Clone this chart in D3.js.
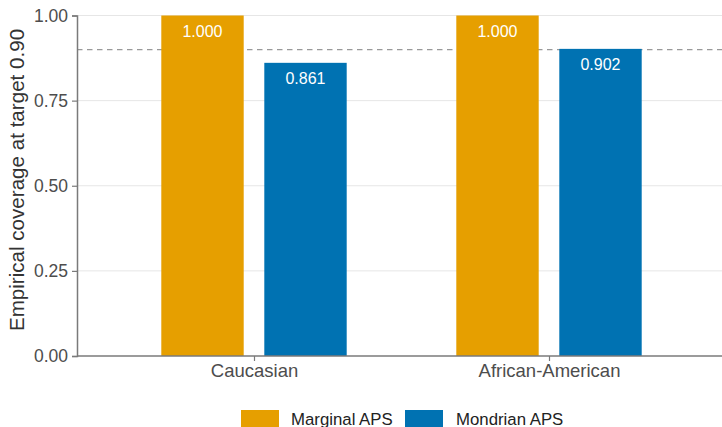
<!DOCTYPE html>
<html>
<head>
<meta charset="utf-8">
<script src="https://cdn.jsdelivr.net/npm/d3@7"></script>
<style>
  html, body { margin: 0; padding: 0; background: #fff; }
  svg { display: block; font-family: "Liberation Sans", Arial, Helvetica, sans-serif; }
</style>
</head>
<body>
<svg id="chart" width="722" height="427"></svg>
<script>
const categories = ["Caucasian", "African-American"];
const series = ["Marginal APS", "Mondrian APS"];
const marginalValues = [1.000, 1.000];
const mondrianValues = [0.861, 0.902];
const yTicks = [0, 0.25, 0.5, 0.75, 1.0];
const yTickLabels = ["0.00", "0.25", "0.50", "0.75", "1.00"];
const targetCoverage = 0.90;
const yTitle = "Empirical coverage at target 0.90";
const colors = ["#E69F00", "#0072B2"];

const values = [marginalValues, mondrianValues];
const data = [];
categories.forEach((c, i) => series.forEach((s, j) => data.push({cat: c, ser: s, val: values[j][i], idx: j})));

const svg = d3.select("#chart");
const mLeft = 77, mRight = 726, mTop = 15.5, mBottom = 356;

const x = d3.scalePoint().domain(categories).range([mLeft, mRight]).padding(0.6);
const x1 = d3.scaleBand().domain(series).range([-103, 103]).padding(0);
const y = d3.scaleLinear().domain([0, 1]).range([mBottom, mTop]);
const color = d3.scaleOrdinal().domain(series).range(colors);

// gridlines
svg.append("g").selectAll("line").data(yTicks.filter(d => d > 0)).join("line")
  .attr("x1", mLeft).attr("x2", 722)
  .attr("y1", d => y(d)).attr("y2", d => y(d))
  .attr("stroke", "#e6e6e6").attr("stroke-width", 1);

// target line
svg.append("line")
  .attr("x1", mLeft).attr("x2", 722)
  .attr("y1", y(targetCoverage)).attr("y2", y(targetCoverage))
  .attr("stroke", "#999").attr("stroke-width", 1.2)
  .attr("stroke-dasharray", "5.5,4.5");

// bars
const bw = x1.bandwidth() * 0.8;
svg.append("g").selectAll("rect").data(data).join("rect")
  .attr("x", d => x(d.cat) + x1(d.ser) + (x1.bandwidth() - bw) / 2)
  .attr("width", bw)
  .attr("y", d => y(d.val))
  .attr("height", d => y(0) - y(d.val))
  .attr("fill", d => color(d.ser));

// value labels
svg.append("g").selectAll("text").data(data).join("text")
  .attr("x", d => x(d.cat) + x1(d.ser) + x1.bandwidth() / 2)
  .attr("y", d => y(d.val) + 16)
  .attr("text-anchor", "middle")
  .attr("dominant-baseline", "central")
  .attr("fill", "#fff")
  .attr("font-size", 16)
  .text(d => d.val.toFixed(3));

// y axis
const yAxis = svg.append("g").attr("transform", `translate(${mLeft},0)`)
  .call(d3.axisLeft(y).tickValues(yTicks).tickFormat((d, i) => yTickLabels[i]).tickSize(5).tickPadding(4));
yAxis.select(".domain").attr("stroke", "#7a7a7a").attr("stroke-width", 1.5);
yAxis.selectAll(".tick line").attr("stroke", "#7a7a7a").attr("stroke-width", 1.2);
yAxis.selectAll(".tick text").attr("fill", "#4d4d4d").attr("font-size", 17.5);

// x axis
const xAxis = svg.append("g").attr("transform", `translate(0,${mBottom})`)
  .call(d3.axisBottom(x).tickSize(5).tickPadding(3));
xAxis.select(".domain").attr("stroke", "#7a7a7a").attr("stroke-width", 1.5).attr("d", `M${mLeft},0H722`);
xAxis.selectAll(".tick line").attr("stroke", "#7a7a7a").attr("stroke-width", 1.2);
xAxis.selectAll(".tick text").attr("fill", "#4d4d4d").attr("font-size", 18.5);

// y title
svg.append("text")
  .attr("transform", `translate(16.5,180) rotate(-90)`)
  .attr("text-anchor", "middle")
  .attr("dominant-baseline", "central")
  .attr("fill", "#333")
  .attr("font-size", 20.6)
  .text(yTitle);

// legend
const legendItems = [{x: 241, tx: 291}, {x: 405, tx: 456}];
const lg = svg.append("g");
series.forEach((s, i) => {
  lg.append("rect").attr("x", legendItems[i].x).attr("y", 410).attr("width", 38).attr("height", 18).attr("fill", color(s));
  lg.append("text").attr("x", legendItems[i].tx).attr("y", 419).attr("dominant-baseline", "central")
    .attr("fill", "#222").attr("font-size", 16.8).text(s);
});
</script>
</body>
</html>
